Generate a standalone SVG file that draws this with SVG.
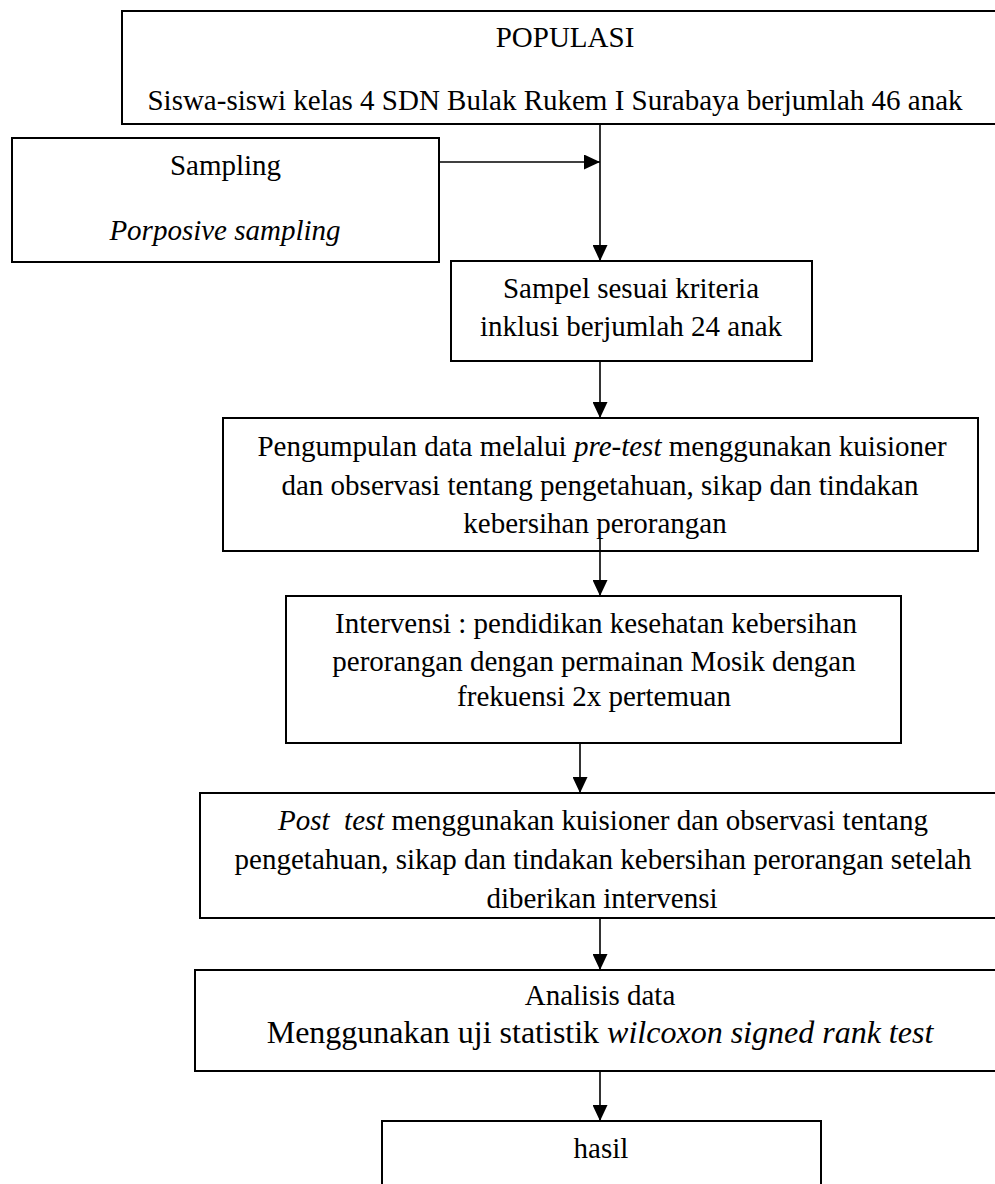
<svg xmlns="http://www.w3.org/2000/svg" width="995" height="1184" viewBox="0 0 995 1184">
  <defs>
    <style>
      .box { fill: #ffffff; stroke: #000000; stroke-width: 2; }
      .t { font-family: "Liberation Serif", "Times New Roman", serif; font-size: 29px; fill: #000000; text-anchor: middle; }
      .big { font-size: 32px; }
      .it { font-style: italic; }
      .conn { stroke: #000000; stroke-width: 1.6; fill: none; marker-end: url(#arrow); }
      .plain { stroke: #000000; stroke-width: 1.6; fill: none; }
    </style>
    <marker id="arrow" markerUnits="userSpaceOnUse" markerWidth="16" markerHeight="15" refX="16" refY="7.5" orient="auto">
      <path d="M0,0 L16,7.5 L0,15 Z" fill="#000000"/>
    </marker>
  </defs>
  <rect width="995" height="1184" fill="#ffffff"/>

  <g id="connectors">
    <line class="conn" x1="600" y1="124" x2="600" y2="261"/>
    <line class="conn" x1="439" y1="162" x2="600" y2="162"/>
    <line class="conn" x1="600" y1="361" x2="600" y2="418"/>
    <line class="conn" x1="600" y1="539" x2="600" y2="596"/>
    <line class="conn" x1="580" y1="743" x2="580" y2="793"/>
    <line class="conn" x1="600" y1="918" x2="600" y2="970"/>
    <line class="conn" x1="600" y1="1071" x2="600" y2="1121"/>
  </g>

  <g id="populasi">
    <rect class="box" x="122" y="11" width="900" height="113"/>
    <text class="t" x="565" y="47">POPULASI</text>
    <text class="t" x="555" y="110">Siswa-siswi kelas 4 SDN Bulak Rukem I Surabaya berjumlah 46 anak</text>
  </g>

  <g id="sampling">
    <rect class="box" x="12" y="138" width="427" height="124"/>
    <text class="t" x="225.5" y="175">Sampling</text>
    <text class="t it" x="225" y="240">Porposive sampling</text>
  </g>

  <g id="sampel">
    <rect class="box" x="451" y="261" width="361" height="100"/>
    <text class="t" x="631" y="298">Sampel sesuai kriteria</text>
    <text class="t" x="631" y="336">inklusi berjumlah 24 anak</text>
  </g>

  <g id="pengumpulan">
    <rect class="box" x="223" y="418" width="755" height="133"/>
    <text class="t" x="602" y="456">Pengumpulan data melalui <tspan class="it">pre-test</tspan> menggunakan kuisioner</text>
    <text class="t" x="600" y="494.5">dan observasi tentang pengetahuan, sikap dan tindakan</text>
    <text class="t" x="595" y="533">kebersihan perorangan</text>
  </g>
  <line class="plain" x1="600" y1="539" x2="600" y2="551"/>

  <g id="intervensi">
    <rect class="box" x="286" y="596" width="615" height="147"/>
    <text class="t" x="596" y="633">Intervensi : pendidikan kesehatan kebersihan</text>
    <text class="t" x="594" y="671">perorangan dengan permainan Mosik dengan</text>
    <text class="t" x="594" y="706">frekuensi 2x pertemuan</text>
  </g>

  <g id="posttest">
    <rect class="box" x="200" y="793" width="830" height="125"/>
    <text class="t" x="603" y="830"><tspan class="it">Post&#160; test</tspan> menggunakan kuisioner dan observasi tentang</text>
    <text class="t" x="603" y="869">pengetahuan, sikap dan tindakan kebersihan perorangan setelah</text>
    <text class="t" x="602" y="908">diberikan intervensi</text>
  </g>

  <g id="analisis">
    <rect class="box" x="195" y="970" width="830" height="101"/>
    <text class="t" x="600" y="1005">Analisis data</text>
    <text class="t big" x="600" y="1043">Menggunakan uji statistik <tspan class="it">wilcoxon signed rank test</tspan></text>
  </g>

  <g id="hasil">
    <rect class="box" x="382" y="1121" width="439" height="100"/>
    <text class="t" x="601" y="1158">hasil</text>
  </g>
</svg>
